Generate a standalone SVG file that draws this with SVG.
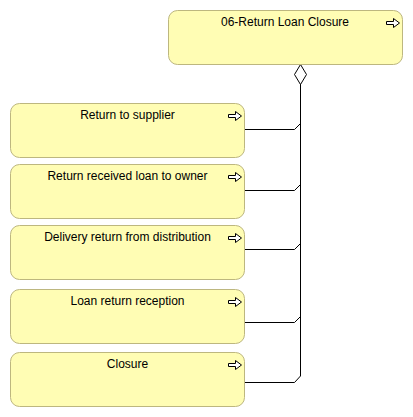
<svg xmlns="http://www.w3.org/2000/svg" width="413" height="417" viewBox="0 0 413 417">
<defs>
<style>
.box{fill:#fffdb4;stroke:#bdb77f;stroke-width:1}
.lbl{font-family:"Liberation Sans",Arial,sans-serif;font-size:12px;fill:#000;text-anchor:middle}
.ico{fill:#fff;stroke:#000;stroke-width:1;stroke-linejoin:miter}
.con{fill:none;stroke:#000;stroke-width:1}
</style>
<polygon id="arrow" class="ico" points="0,3 7,3 7,0 13,4.5 7,9 7,6 0,6"/>
</defs>
<rect width="413" height="417" fill="#fff"/>
<g id="connectors">
<line class="con" x1="300.5" y1="84" x2="300.5" y2="376"/>
<polyline class="con" points="245,129.5 294.5,129.5 300.5,123.5"/>
<polyline class="con" points="245,190.5 294.5,190.5 300.5,184.5"/>
<polyline class="con" points="245,249.5 294.5,249.5 300.5,243.5"/>
<polyline class="con" points="245,322.5 294.5,322.5 300.5,316.5"/>
<polyline class="con" points="245,382.5 294.5,382.5 300.5,376"/>
<polygon class="con" fill="#fff" style="fill:#fff" points="300.5,64.5 306.5,74.5 300.5,84.5 294.5,74.5"/>
</g>
<g id="n0">
<rect class="box" x="168.5" y="10.5" width="234" height="54" rx="9"/>
<text class="lbl" x="285" y="26">06-Return Loan Closure</text>
<use href="#arrow" x="386.5" y="18.5"/>
</g>
<g id="n1">
<rect class="box" x="10.5" y="103.5" width="234" height="54" rx="9"/>
<text class="lbl" x="127.5" y="119">Return to supplier</text>
<use href="#arrow" x="228.5" y="111.5"/>
</g>
<g id="n2">
<rect class="box" x="10.5" y="164.5" width="234" height="54" rx="9"/>
<text class="lbl" x="127.5" y="180">Return received loan to owner</text>
<use href="#arrow" x="228.5" y="172.5"/>
</g>
<g id="n3">
<rect class="box" x="10.5" y="225.5" width="234" height="54" rx="9"/>
<text class="lbl" x="127.5" y="241">Delivery return from distribution</text>
<use href="#arrow" x="228.5" y="233.5"/>
</g>
<g id="n4">
<rect class="box" x="10.5" y="289.5" width="234" height="54" rx="9"/>
<text class="lbl" x="127.5" y="305">Loan return reception</text>
<use href="#arrow" x="228.5" y="297.5"/>
</g>
<g id="n5">
<rect class="box" x="10.5" y="352.5" width="234" height="54" rx="9"/>
<text class="lbl" x="127.5" y="368">Closure</text>
<use href="#arrow" x="228.5" y="360.5"/>
</g>
</svg>
